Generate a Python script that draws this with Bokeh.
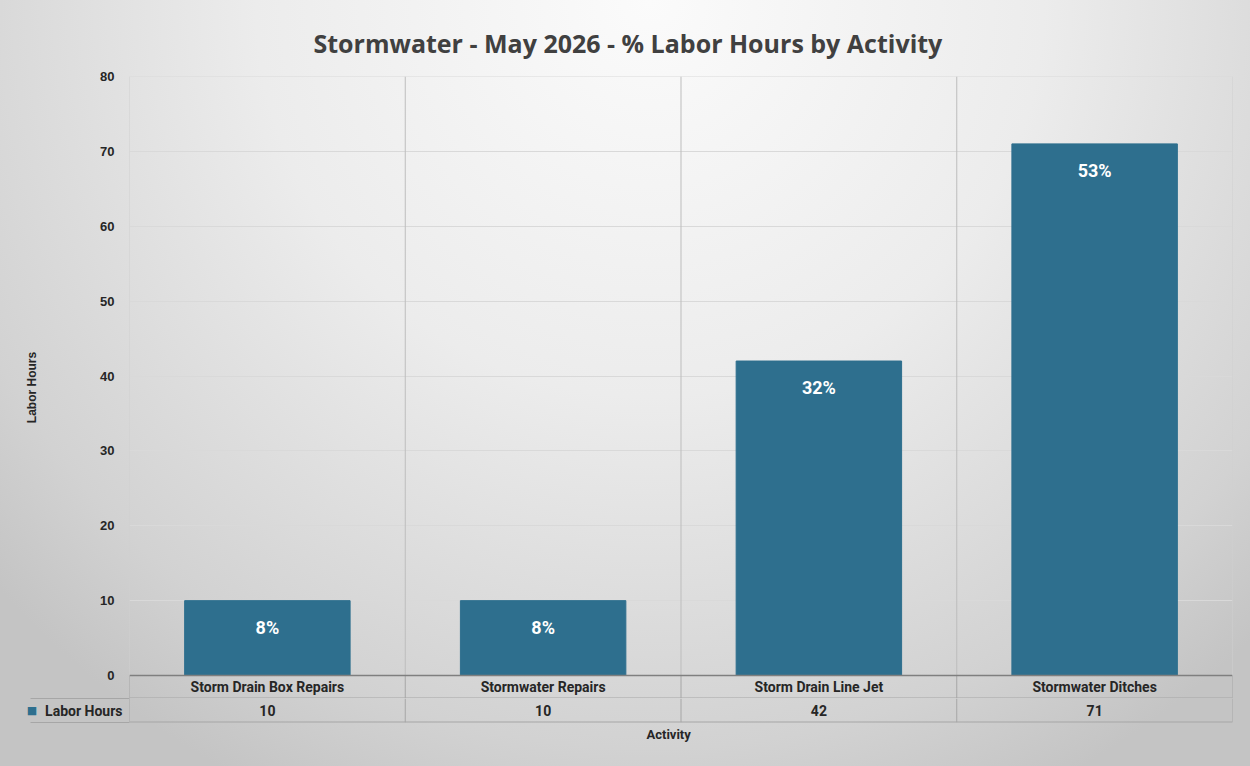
from bokeh.plotting import figure
from bokeh.layouts import column
from bokeh.models import Range1d, FactorRange, ColumnDataSource, FixedTicker, Title
from bokeh.core.properties import value
from bokeh.embed import file_html
from bokeh.resources import INLINE

# ---- data ----
categories = ["Storm Drain Box Repairs", "Stormwater Repairs", "Storm Drain Line Jet", "Stormwater Ditches"]
labor_hours = [10, 10, 42, 71]
pct_labels = ["8%", "8%", "32%", "53%"]
series_name = "Labor Hours"
y_max = 80
y_step = 10

BAR = "#2E6F8E"
TXT = "#262626"
NARROW = "'Liberation Sans Narrow', 'Roboto', sans-serif"
GRID = "#d9d9d9"
SEP = "#bdbdbd"
TBL = "#a6a6a6"

W = 1250
LEFT = 129
RIGHT = 18
TOP = 76
PLOT_PX = 599      # pixel height of 0..y_max
ROW_PX = 23        # pixel height of one table row
CELL_PX = 99       # width of the legend cell of the data table
ext = y_max * ROW_PX / PLOT_PX   # category-name row below zero, in data units

xr = FactorRange(factors=categories, range_padding=0)
n = len(categories)
bounds = list(range(n + 1))

src = ColumnDataSource(dict(cat=categories, hours=labor_hours, pct=pct_labels,
                            hours_txt=[str(v) for v in labor_hours]))

p = figure(x_range=xr, y_range=Range1d(-ext, y_max), width=W, height=TOP + PLOT_PX + ROW_PX,
           output_backend="svg", toolbar_location=None,
           min_border_left=LEFT, min_border_right=RIGHT, min_border_top=TOP, min_border_bottom=0,
           title="Stormwater - May 2026 - % Labor Hours by Activity")
p.background_fill_color = None
p.border_fill_color = None
p.outline_line_color = None
p.title.align = "left"
p.title.offset = 184
p.title.text_font = "Open Sans"
p.title.text_font_size = "25px"
p.title.text_font_style = "bold"
p.title.text_color = "#404040"
p.title.standoff = 33

p.xaxis.visible = False
p.xgrid.grid_line_color = None
p.ygrid.grid_line_color = GRID
p.yaxis.ticker = FixedTicker(ticks=list(range(0, y_max + 1, y_step)))
p.yaxis.axis_line_color = None
p.yaxis.major_tick_line_color = None
p.yaxis.minor_tick_line_color = None
p.yaxis.major_label_text_font = "Liberation Sans"
p.yaxis.major_label_text_font_style = "bold"
p.yaxis.major_label_text_font_size = "13px"
p.yaxis.major_label_text_color = TXT
p.yaxis.major_label_standoff = 9
p.yaxis.axis_label = "Labor Hours"
p.yaxis.axis_label_text_font = "Liberation Sans"
p.yaxis.axis_label_text_font_style = "bold"
p.yaxis.axis_label_text_font_size = "12px"
p.yaxis.axis_label_text_color = TXT
p.yaxis.axis_label_standoff = 58

# top line of plot area
p.segment(x0=[0], x1=[n], y0=[y_max], y1=[y_max], line_color=GRID, line_width=1)
# category separators (plot area + category-name row)
sep_colors = ["#cfcfcf"] + [SEP] * (n - 1) + ["#cfcfcf"]
p.segment(x0=bounds, x1=bounds, y0=[0] * (n + 1), y1=[y_max] * (n + 1), line_color=sep_colors, line_width=1)
p.segment(x0=bounds, x1=bounds, y0=[-ext] * (n + 1), y1=[0] * (n + 1), line_color=TBL, line_width=1)
# bottom of category-name row
p.segment(x0=[0], x1=[n], y0=[-ext], y1=[-ext], line_color=TBL, line_width=2)

p.vbar(x="cat", top="hours", bottom=0, width=0.6, source=src, fill_color=BAR, line_color=BAR)
p.text(x="cat", y="hours", text="pct", source=src, text_align="center", text_baseline="top",
       y_offset=16, text_color="white", text_font=value("Roboto"), text_font_style="bold",
       text_font_size="18px")
# category axis line
p.segment(x0=[0], x1=[n], y0=[0], y1=[0], line_color="#7f7f7f", line_width=1.6)
# category names row
p.text(x="cat", y=-ext / 2, text="cat", source=src, text_align="center", text_baseline="middle",
       text_color=TXT, text_font=value(NARROW), text_font_style="bold", text_font_size="14px")

# ---- data table: values row ----
p2 = figure(x_range=xr, y_range=Range1d(0, 1), width=W, height=ROW_PX + 1 + 44,
            output_backend="svg", toolbar_location=None,
            min_border_left=LEFT, min_border_right=RIGHT, min_border_top=0, min_border_bottom=44)
p2.background_fill_color = None
p2.border_fill_color = None
p2.outline_line_color = None
p2.grid.grid_line_color = None
p2.xaxis.visible = False
p2.add_layout(Title(text="Activity", align="left", offset=517, text_font=NARROW,
                    text_font_style="bold", text_font_size="13px", text_color=TXT, standoff=5), "below")

# legend cell of the data table, built from the y axis
p2.yaxis.ticker = FixedTicker(ticks=[0.5], minor_ticks=[0, 1])
p2.yaxis.major_label_overrides = {0.5: series_name}
p2.yaxis.axis_line_color = None
p2.yaxis.major_tick_out = 0
p2.yaxis.major_tick_in = 0
p2.yaxis.major_tick_line_color = None
p2.yaxis.minor_tick_out = CELL_PX
p2.yaxis.minor_tick_in = 0
p2.yaxis.minor_tick_line_color = TBL
p2.yaxis.major_label_standoff = 7 - CELL_PX
p2.yaxis.major_label_text_font = NARROW
p2.yaxis.major_label_text_font_style = "bold"
p2.yaxis.major_label_text_font_size = "14px"
p2.yaxis.major_label_text_color = TXT
p2.yaxis.axis_label = "\u25A0"
p2.yaxis.axis_label_orientation = "horizontal"
p2.yaxis.axis_label_text_font = "DejaVu Sans"
p2.yaxis.axis_label_text_font_size = "11px"
p2.yaxis.axis_label_text_color = BAR
p2.yaxis.axis_label_standoff = 5

p2.segment(x0=[0], x1=[n], y0=[0], y1=[0], line_color=TBL, line_width=2)
p2.segment(x0=bounds, x1=bounds, y0=[0] * (n + 1), y1=[1] * (n + 1), line_color=TBL, line_width=1)
p2.text(x="cat", y=0.5, text="hours_txt", source=src, text_align="center", text_baseline="middle",
        text_color=TXT, text_font=value(NARROW), text_font_style="bold", text_font_size="14px")

layout = column(p, p2, spacing=0, styles={
    "background": "radial-gradient(ellipse 70% 115% at 52% 0%, #fbfbfb 0%, #ececec 45%, #d2d2d2 85%, #c4c4c4 100%)"
})

open("out.html", "w").write(file_html(layout, INLINE))
